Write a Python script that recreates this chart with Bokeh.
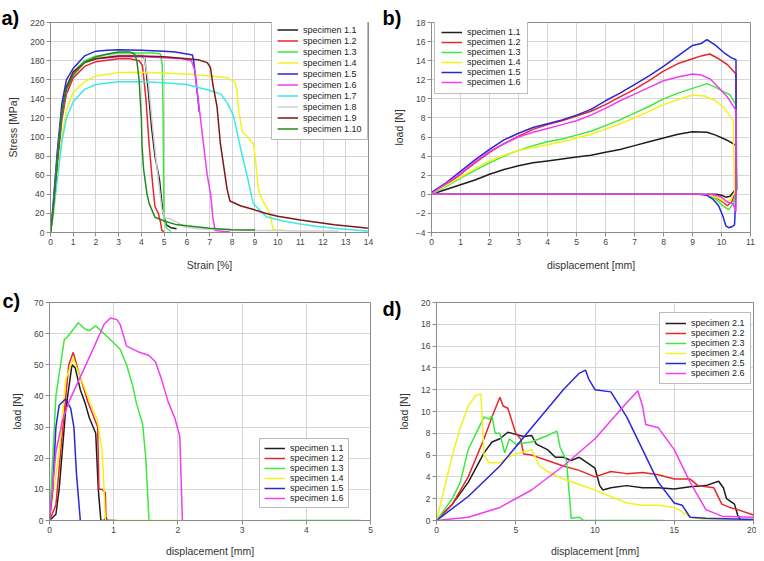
from bokeh.plotting import figure
from bokeh.layouts import column, row
from bokeh.models import Legend, LegendItem, FixedTicker, Label, Range1d
from bokeh.embed import file_html
from bokeh.resources import INLINE

NaN = float("nan")
FONT = "Liberation Sans"

# ---------------- panel a) stress-strain ----------------
A_XTICKS = [0, 1, 2, 3, 4, 5, 6, 7, 8, 9, 10, 11, 12, 13, 14]
A_YTICKS = [0, 20, 40, 60, 80, 100, 120, 140, 160, 180, 200, 220]
A_LABELS = ["specimen 1.1", "specimen 1.2", "specimen 1.3", "specimen 1.4", "specimen 1.5",
            "specimen 1.6", "specimen 1.7", "specimen 1.8", "specimen 1.9", "specimen 1.10"]

a11_x = [0, 0.1, 0.3, 0.5, 0.7, 1.0, 1.5, 2, 3, 4.0, 4.15, 4.3, 4.45, 4.6, 4.8, 4.95, 5.1, 5.3, 5.55]
a11_y = [0, 20, 75, 125, 152, 168, 179, 183, 185, 185, 182, 150, 110, 80, 55, 20, 8, 5, 4]
a12_x = [0, 0.1, 0.3, 0.5, 0.7, 1.0, 1.5, 2, 3, 3.5, 3.9, 4.05, 4.2, 4.35, 4.5, 4.6, 4.75, 4.85, 4.9, 5.0]
a12_y = [0, 18, 70, 118, 145, 162, 174, 179, 182, 182, 180, 175, 140, 90, 50, 27, 20, 10, 2, 1]
a13_x = [0, 0.1, 0.3, 0.5, 0.7, 1, 1.5, 2, 3, 4, 4.5, 4.85, 4.92, 4.96, 4.98, 5.0, 5.1, 5.3]
a13_y = [0, 22, 80, 128, 152, 168, 180, 185, 188, 188, 188, 187, 175, 120, 50, 15, 5, 1]
a14_x = [0, 0.1, 0.3, 0.5, 0.7, 1, 1.5, 2, 3, 4, 5, 6, 7, 7.8, 8.1, 8.2, 8.3, 8.45, 8.7, 8.95, 9.05,
         9.15, 9.3, 9.55, 9.7, 9.8, 10.0, 10.2]
a14_y = [0, 15, 60, 100, 128, 147, 158, 164, 167.5, 168, 167, 166, 164, 162, 158, 150, 125, 105, 100,
         92, 70, 45, 35, 25, 15, 3, 2.5, 2.5]
a15_x = [0, 0.1, 0.3, 0.5, 0.7, 1, 1.5, 2, 2.5, 3, 4, 5, 5.5, 6, 6.25, 6.3, 6.4, 6.55]
a15_y = [0, 25, 85, 135, 160, 172, 185, 190, 191, 191.5, 191, 190, 189, 187, 186, 180, 160, 126]
a16_x = [0, 0.1, 0.3, 0.5, 0.7, 1, 1.5, 2, 3, 4, 5, 5.8, 6.2, 6.35, 6.5, 6.7, 6.9, 7.05, 7.15, 7.25, 7.9]
a16_y = [0, 20, 75, 125, 150, 167, 178, 182, 184, 184, 183, 182, 180, 170, 140, 100, 60, 40, 15, 2, 0.5]
a17_x = [0, 0.1, 0.3, 0.5, 0.7, 1, 1.5, 2, 3, 4, 5, 6, 6.5, 7, 7.5, 7.8, 8.06, 8.36, 8.65, 8.87, 8.94,
         9.5, 10.26, 11, 11.7, 12.5, 13.9, 14]
a17_y = [0, 15, 55, 95, 120, 137, 150, 155, 158, 158, 157, 155, 152, 149, 145, 135, 122, 89, 60, 36, 30,
         16.5, 12, 9, 6.6, 4.5, 1.6, 1.5]
a18_x = [0, 0.1, 0.3, 0.5, 0.7, 1, 1.5, 2, 3, 4.1, 4.3, 4.5, 4.7, 4.9, 5.0, 5.3, 5.6, 5.9, 6.5, 8, 9, 10, 11, 12.7]
a18_y = [0, 20, 75, 125, 150, 167, 178, 183, 186, 186, 160, 110, 65, 25, 16, 14, 10, 6, 4, 3, 2, 2, 1.5, 1.5]
a19_x = [0, 0.1, 0.3, 0.5, 0.7, 1, 1.5, 2, 3, 4, 5, 6, 6.5, 6.9, 7.04, 7.15, 7.33, 7.48, 7.77, 7.9, 8.36,
         8.94, 9.5, 10, 11, 12.5, 13.9, 14]
a19_y = [0, 20, 75, 125, 152, 168, 178, 182, 185, 185, 184, 182, 181, 178, 173, 155, 132, 93, 46, 33, 28,
         24, 20, 17, 13, 8, 4.6, 4.5]
a110_x = [0, 0.1, 0.3, 0.5, 0.7, 1, 1.5, 2, 2.5, 3, 3.5, 3.7, 3.8, 3.9, 4.0, 4.03, 4.1, 4.25, 4.35, 4.6,
          5, 5.5, 6, 7, 8, 9]
a110_y = [0, 20, 75, 125, 150, 165, 178, 184, 187, 189, 189, 187, 180, 160, 120, 90, 66, 40, 30, 16,
          12, 8.5, 7, 4.5, 3, 2.5]

# ---------------- panel b) ----------------
B_XTICKS = [0, 1, 2, 3, 4, 5, 6, 7, 8, 9, 10, 11]
B_YTICKS = [-4, -2, 0, 2, 4, 6, 8, 10, 12, 14, 16, 18]
B_LABELS = ["specimen 1.1", "specimen 1.2", "specimen 1.3", "specimen 1.4", "specimen 1.5", "specimen 1.6"]

b11_x = [0, 0.5, 1, 1.5, 2, 2.5, 3, 3.5, 4, 4.5, 5, 5.5, 6, 6.5, 7, 7.5, 8, 8.5, 9, 9.5, 9.8, 10.1, 10.3,
         10.5, 10.52, 10.45, 10.3, 10.15, 10.0, 9.8, 0]
b11_y = [0, 0.5, 1.0, 1.5, 2.1, 2.6, 3.0, 3.3, 3.5, 3.7, 3.9, 4.1, 4.4, 4.7, 5.1, 5.5, 5.9, 6.3, 6.55,
         6.5, 6.2, 5.8, 5.5, 5.1, 0.5, 0.4, -0.2, -0.3, -0.1, 0, 0]
b12_x = [0, 0.5, 1, 1.5, 2, 2.5, 3, 3.5, 4, 4.5, 5, 5.5, 6, 6.5, 7, 7.5, 8, 8.5, 9, 9.3, 9.6, 9.9, 10.2,
         10.5, 10.52, 10.35, 10.2, 10.0, 9.7, 9.4, 0]
b12_y = [0.1, 1.0, 2.1, 3.3, 4.4, 5.3, 6.1, 6.8, 7.3, 7.7, 8.2, 8.7, 9.4, 10.2, 11.0, 11.9, 12.9, 13.7,
         14.2, 14.5, 14.7, 14.2, 13.6, 12.6, 0.5, -0.8, -1.2, -0.7, -0.1, 0, 0]
b13_x = [0, 0.5, 1, 1.5, 2, 2.5, 3, 3.5, 4, 4.5, 5, 5.5, 6, 6.5, 7, 7.5, 8, 8.5, 9, 9.5, 9.8, 10.1, 10.3,
         10.5, 10.52, 10.4, 10.25, 10.05, 9.8, 9.5, 0]
b13_y = [0, 0.8, 1.7, 2.5, 3.3, 4.0, 4.6, 5.1, 5.5, 5.8, 6.2, 6.6, 7.2, 7.8, 8.5, 9.2, 10.0, 10.6, 11.1,
         11.6, 11.2, 10.7, 10.4, 9.4, 0.3, -1.0, -1.6, -1.2, -0.5, 0, 0]
b14_x = [0, 0.5, 1, 1.5, 2, 2.5, 3, 3.5, 4, 4.5, 5, 5.5, 6, 6.5, 7, 7.5, 8, 8.5, 9, 9.4, 9.8, 10.1, 10.4,
         10.45, 10.3, 10.1, 9.9, 9.5, 0]
b14_y = [0.1, 0.9, 1.8, 2.7, 3.5, 4.1, 4.6, 4.9, 5.2, 5.5, 5.9, 6.3, 6.8, 7.4, 8.0, 8.7, 9.4, 9.9, 10.4,
         10.3, 9.8, 9.0, 7.8, 0.2, -0.6, -0.8, -0.4, 0, 0]
b15_x = [0, 0.5, 1, 1.5, 2, 2.5, 3, 3.5, 4, 4.5, 5, 5.5, 6, 6.5, 7, 7.5, 8, 8.5, 9, 9.3, 9.5, 9.8, 10.1,
         10.35, 10.5, 10.5, 10.45, 10.35, 10.25, 10.15, 10.05, 9.9, 9.7, 9.5, 9.2, 0]
b15_y = [0.2, 1.2, 2.4, 3.6, 4.7, 5.7, 6.4, 7.0, 7.4, 7.8, 8.3, 8.9, 9.8, 10.6, 11.5, 12.4, 13.4, 14.5,
         15.6, 15.8, 16.2, 15.6, 14.8, 14.3, 14.1, 0.3, -3.2, -3.4, -3.5, -3.3, -2.3, -1.2, -0.5, -0.1, 0, 0]
b16_x = [0, 0.5, 1, 1.5, 2, 2.5, 3, 3.5, 4, 4.5, 5, 5.5, 6, 6.5, 7, 7.5, 8, 8.5, 9, 9.3, 9.6, 9.9, 10.2,
         10.5, 10.5, 10.4, 10.2, 10.0, 9.7, 0]
b16_y = [0.1, 1.1, 2.2, 3.4, 4.5, 5.3, 6.0, 6.5, 6.9, 7.3, 7.7, 8.3, 9.0, 9.8, 10.5, 11.2, 11.9, 12.3,
         12.6, 12.5, 12.1, 11.2, 10.2, 8.8, -1.8, -1.0, -0.8, -0.3, 0, 0]

# ---------------- panel c) ----------------
C_XTICKS = [0, 1, 2, 3, 4, 5]
C_YTICKS = [0, 10, 20, 30, 40, 50, 60, 70]
C_LABELS = B_LABELS

c11_x = [0, 0.1, 0.15, 0.25, 0.35, 0.4, 0.48, 0.55, 0.62, 0.72, 0.76, 0.8, 0.85, 0.88, 0.9, 1.0]
c11_y = [0, 2, 10, 35, 50, 49, 42, 38, 33, 28, 10, 0, 0, 1, 0, 0]
c12_x = [0, 0.1, 0.2, 0.3, 0.37, 0.45, 0.6, 0.75, 0.77, 0.82, 0.87, 0.88, 1.05]
c12_y = [0, 5, 28, 50, 54, 48, 38, 30, 10, 10, 9, 0, 0]
c13_x = [0, 0.1, 0.23, 0.28, 0.45, 0.55, 0.62, 0.72, 0.9, 1.0, 1.1, 1.2, 1.3, 1.35, 1.45, 1.5, 1.55,
         1.6, NaN, 3.6, 4.85]
c13_y = [0, 40, 58, 59, 63.5, 61.5, 61, 62.5, 59, 57, 55, 50, 43, 38, 31, 20, 0, 0, NaN, 0, 0]
c14_x = [0, 0.15, 0.25, 0.37, 0.5, 0.65, 0.75, 0.82, 0.85, 0.87, 2.05]
c14_y = [0, 22, 45, 52, 45, 37, 32, 22, 10, 0, 0]
c15_x = [0, 0.05, 0.1, 0.15, 0.25, 0.33, 0.38, 0.42, 0.48]
c15_y = [0, 10, 30, 37, 39, 36, 30, 15, 0]
c16_x = [0, 0.1, 0.2, 0.3, 0.5, 0.7, 0.85, 0.95, 1.05, 1.1, 1.2, 1.4, 1.55, 1.65, 1.75, 1.85, 1.95,
         2.03, 2.07, 2.08]
c16_y = [0, 22, 32, 38, 47, 56, 63, 65, 64.5, 63, 56, 54, 53, 51, 45, 38, 33, 27, 0, 0]

# ---------------- panel d) ----------------
D_XTICKS = [0, 5, 10, 15, 20]
D_YTICKS = [0, 2, 4, 6, 8, 10, 12, 14, 16, 18, 20]
D_LABELS = ["specimen 2.1", "specimen 2.2", "specimen 2.3", "specimen 2.4", "specimen 2.5", "specimen 2.6"]

d21_x = [0, 1, 2, 3, 3.5, 4, 4.5, 5, 5.5, 6, 6.3, 7, 7.5, 8, 8.5, 9, 9.5, 10, 10.3, 10.5, 11, 12, 13,
         14, 15, 16, 17, 17.8, 18.1, 18.3, 18.8, 19, 19.2]
d21_y = [0, 1.5, 3.5, 6.2, 7.2, 7.5, 8.1, 7.9, 7.7, 7.8, 7.0, 6.5, 5.8, 5.8, 5.5, 5.8, 5.3, 4.8, 3.2,
         2.8, 3.0, 3.2, 3.0, 3.0, 2.9, 3.1, 3.2, 3.6, 3.0, 2.0, 1.5, 0.5, 0]
d22_x = [0, 1, 2, 3, 3.5, 4, 4.2, 4.5, 5, 5.3, 5.5, 6, 7, 8, 9, 10, 11, 12, 13, 14, 15, 16, 16.5, 17.5,
         18, 18.5, 19, 20]
d22_y = [0, 1.5, 4, 7.5, 9.5, 11.3, 10.5, 10.3, 8, 7.5, 6.1, 6, 5.5, 5, 4.6, 4.0, 4.5, 4.3, 4.4, 4.2,
         3.8, 3.8, 3.2, 3.0, 1.5, 1.2, 1.0, 0.5]
d23_x = [0, 1, 1.5, 2, 3, 3.3, 3.5, 3.7, 4, 4.3, 4.6, 5, 6, 7, 7.6, 7.8, 8.2, 8.5, 9, 9.3, 14.3]
d23_y = [0, 2, 3.5, 6.5, 9.5, 9.3, 9.6, 8, 8, 6.2, 7.5, 7, 7.2, 7.8, 8.2, 6.7, 5.5, 0.2, 0.3, 0, 0]
d24_x = [0, 0.5, 1, 1.5, 2, 2.5, 2.8, 3, 3.3, 4, 4.5, 5, 5.5, 6, 6.5, 7, 8, 9, 10, 11, 12, 13, 14, 15,
         15.5, 16, 17, 20]
d24_y = [0, 3, 6, 8.5, 10.5, 11.5, 11.6, 6, 5.3, 5.3, 5.8, 6.1, 6.3, 6.5, 5, 4.5, 3.8, 3.3, 2.8, 2.2,
         1.6, 1.4, 1.4, 1.2, 0.8, 0.3, 0.1, 0]
d25_x = [0, 2, 4, 6, 8, 9, 9.4, 9.6, 10, 11, 12, 13, 14, 15, 15.5, 16, 17, 20]
d25_y = [0, 2.2, 5, 8.5, 12, 13.5, 13.8, 13, 12, 11.8, 9.5, 6.5, 3.5, 1.6, 1.4, 0.3, 0.2, 0.1]
d26_x = [0, 2, 4, 6, 8, 10, 12, 12.7, 13, 13.2, 14, 15, 16, 17, 18, 20]
d26_y = [0, 0.3, 1.2, 2.8, 5, 7.5, 10.8, 11.9, 10.5, 8.8, 8.5, 6.5, 3.5, 1.0, 0.4, 0.3]

COLORS_A = ["#1e1e1e", "#e8262a", "#3ee83e", "#f2f21c", "#2828d8", "#f23cf2", "#3ce8e8", "#cfcfcf",
            "#7f1717", "#1f8a1f"]
COLORS_6 = ["#1e1e1e", "#e8262a", "#3ee83e", "#f2f21c", "#2828d8", "#f23cf2"]


def make_fig(w, h, borders, xr, yr, xticks, yticks, xlabel, ylabel, xstand, ystand):
    l, r, t, b = borders
    p = figure(width=w, height=h, output_backend="svg", toolbar_location=None,
               x_range=Range1d(*xr), y_range=Range1d(*yr),
               min_border_left=l, min_border_right=r, min_border_top=t, min_border_bottom=b)
    p.outline_line_color = "#8c8c8c"
    p.outline_line_width = 1
    p.xaxis.ticker = FixedTicker(ticks=xticks)
    p.yaxis.ticker = FixedTicker(ticks=yticks)
    for g in (p.xgrid[0], p.ygrid[0]):
        g.grid_line_color = "#d6d6d6"
        g.grid_line_width = 1
    for ax in (p.xaxis[0], p.yaxis[0]):
        ax.axis_line_color = "#8c8c8c"
        ax.major_tick_line_color = "#8c8c8c"
        ax.major_tick_out = 4
        ax.major_tick_in = 0
        ax.minor_tick_line_color = None
        ax.major_label_text_font = FONT
        ax.major_label_text_font_size = "8.5px"
        ax.major_label_text_color = "#444444"
        ax.axis_label_text_font = FONT
        ax.axis_label_text_font_size = "10.5px"
        ax.axis_label_text_font_style = "normal"
        ax.axis_label_text_color = "#333333"
        ax.major_label_standoff = 2
    p.xaxis[0].axis_label_standoff = xstand
    p.yaxis[0].axis_label_standoff = ystand
    p.xaxis.axis_label = xlabel
    p.yaxis.axis_label = ylabel
    p.background_fill_color = "white"
    p.border_fill_color = "white"
    return p


def add_series(p, xs, ys, labels, colors, loc, padding, item_h):
    items = []
    for x, y, lab, c in zip(xs, ys, labels, colors):
        rr = p.line(x, y, line_color=c, line_width=1.5)
        items.append(LegendItem(label=lab, renderers=[rr]))
    leg = Legend(items=items, location=loc, margin=0, padding=padding, spacing=0,
                 glyph_width=21, glyph_height=item_h, label_height=item_h, label_standoff=5,
                 label_text_font=FONT, label_text_font_size="9px", label_text_color="#222222",
                 border_line_color="#7a7a7a", border_line_width=1, background_fill_color="white",
                 background_fill_alpha=1.0)
    p.add_layout(leg)


def add_tag(p, text, x, y):
    # panel tag drawn in the plot's top side panel (side panels are not clipped to the frame)
    p.add_layout(Label(x=x, y=y, x_units="canvas", y_units="canvas", text=text,
                       text_font=FONT, text_font_size="20px", text_font_style="bold",
                       text_color="black", text_baseline="top", text_align="left"), "above")


pa = make_fig(382, 280, (50, 14, 12, 47), (0, 14), (0, 220), A_XTICKS, A_YTICKS,
              "Strain [%]", "Stress [MPa]", 11, 8)
add_series(pa, [a11_x, a12_x, a13_x, a14_x, a15_x, a16_x, a17_x, a18_x, a19_x, a110_x],
           [a11_y, a12_y, a13_y, a14_y, a15_y, a16_y, a17_y, a18_y, a19_y, a110_y],
           A_LABELS, COLORS_A, (221, 92), 5, 11)
add_tag(pa, "a)", 1, 6)

pb = make_fig(374, 280, (49, 6, 13, 48), (0, 11), (-4, 18), B_XTICKS, B_YTICKS,
              "displacement [mm]", "load [N]", 11, 8)
add_series(pb, [b11_x, b12_x, b13_x, b14_x, b15_x, b16_x], [b11_y, b12_y, b13_y, b14_y, b15_y, b16_y],
           B_LABELS, COLORS_6, (3, 138), 6, 10)
add_tag(pb, "b)", 0, 6)

pc = make_fig(382, 281, (49, 12, 19, 41), (0, 5), (0, 70), C_XTICKS, C_YTICKS,
              "displacement [mm]", "load [N]", 9, 8)
add_series(pc, [c11_x, c12_x, c13_x, c14_x, c15_x, c16_x], [c11_y, c12_y, c13_y, c14_y, c15_y, c16_y],
           C_LABELS, COLORS_6, (210, 12), 4, 10)
add_tag(pc, "c)", 2, 9)

pd_ = make_fig(374, 281, (54, 3, 19, 40), (0, 20), (0, 20), D_XTICKS, D_YTICKS,
               "displacement [mm]", "load [N]", 9, 8)
add_series(pd_, [d21_x, d22_x, d23_x, d24_x, d25_x, d26_x], [d21_y, d22_y, d23_y, d24_y, d25_y, d26_y],
           D_LABELS, COLORS_6, (223, 136), 5, 10)
add_tag(pd_, "d)", 0, 17)

layout = column(row(pa, pb, spacing=0), row(pc, pd_, spacing=0), spacing=0)
open("out.html", "w").write(file_html(layout, INLINE))
